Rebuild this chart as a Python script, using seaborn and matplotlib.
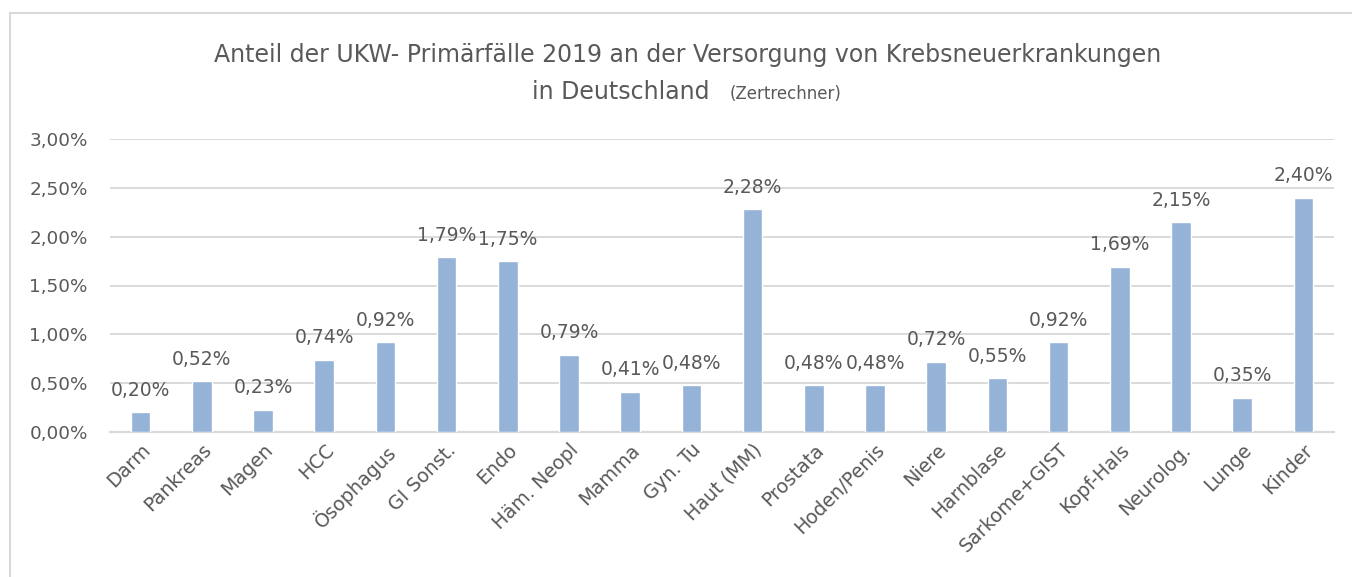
import matplotlib
matplotlib.use("Agg")
import matplotlib.pyplot as plt
import matplotlib.patches as mpatches
from matplotlib.ticker import FuncFormatter
import seaborn as sns

# Data (percent of new cancer cases)
categories = ["Darm", "Pankreas", "Magen", "HCC", "Ösophagus", "GI Sonst.", "Endo",
              "Häm. Neopl", "Mamma", "Gyn. Tu", "Haut (MM)", "Prostata", "Hoden/Penis",
              "Niere", "Harnblase", "Sarkome+GIST", "Kopf-Hals", "Neurolog.", "Lunge", "Kinder"]
values = [0.20, 0.52, 0.23, 0.74, 0.92, 1.79, 1.75, 0.79, 0.41, 0.48, 2.28, 0.48, 0.48,
          0.72, 0.55, 0.92, 1.69, 2.15, 0.35, 2.40]
yticks = [0.0, 0.5, 1.0, 1.5, 2.0, 2.5, 3.0]

sns.set_style("white")
plt.rcParams["font.family"] = ["DejaVu Sans"]
text_col = "#595959"
grid_col = "#d9d9d9"

W, H = 1352, 577
fig = plt.figure(figsize=(W / 100, H / 100), dpi=100)
ax = fig.add_axes([110 / W, 1 - 432 / H, 1224 / W, 293 / H])

sns.barplot(x=categories, y=values, color="#95b3d7", saturation=1, width=0.32, ax=ax, zorder=3)

ax.set_ylim(0, 3.0)
ax.set_xlim(-0.5, len(categories) - 0.5)
ax.set_yticks(yticks)
ax.yaxis.set_major_formatter(FuncFormatter(lambda v, p: f"{v:.2f}%".replace(".", ",")))
ax.grid(axis="y", color=grid_col, linewidth=1.4, zorder=0)
ax.set_axisbelow(True)
for s in ["top", "right", "left"]:
    ax.spines[s].set_visible(False)
ax.spines["bottom"].set_color(grid_col)
ax.spines["bottom"].set_linewidth(1.6)
ax.tick_params(axis="both", length=0, colors=text_col)
ax.tick_params(axis="y", pad=16, labelsize=13.2)
ax.tick_params(axis="x", pad=6, labelsize=13.8)
ax.set_xlabel("")
ax.set_ylabel("")

for lbl in ax.get_xticklabels():
    lbl.set_rotation(45)
    lbl.set_ha("right")
    lbl.set_rotation_mode("anchor")

# data labels
for i, v in enumerate(values):
    ax.annotate(f"{v:.2f}%".replace(".", ","), (i, v), xytext=(0, 9), textcoords="offset points",
                ha="center", va="bottom", fontsize=13.5, color=text_col)

# title
fig.text(688 / W, 1 - 55 / H, "Anteil der UKW- Primärfälle 2019 an der Versorgung von Krebsneuerkrankungen",
         ha="center", va="center", fontsize=17, color=text_col)
fig.text(710 / W, 1 - 92 / H, "in Deutschland", ha="right", va="center", fontsize=17, color=text_col)
fig.text(730 / W, 1 - 94 / H, "(Zertrechner)", ha="left", va="center", fontsize=12, color=text_col)

# chart frame (partly cropped in the reference)
fig.patches.append(mpatches.Rectangle((10 / W, -0.1), 1.2, 1.1 - 13 / H, transform=fig.transFigure,
                                      fill=False, edgecolor=grid_col, linewidth=1.5))

fig.savefig("out.png", dpi=100, facecolor="white")
